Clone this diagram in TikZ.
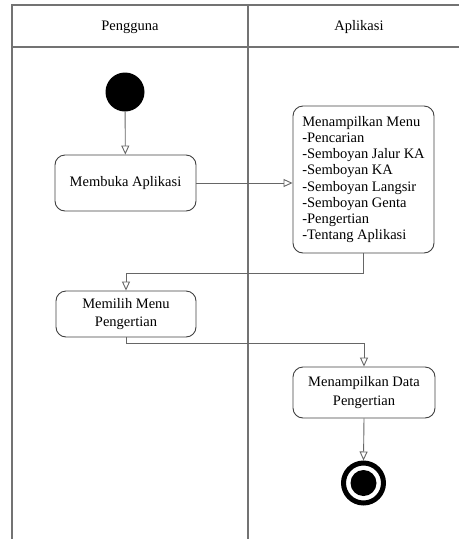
\documentclass[tikz,border=0pt]{standalone}
\usepackage{fontspec}
\setmainfont{Liberation Serif}
\usetikzlibrary{arrows.meta}

\begin{document}
\begin{tikzpicture}[x=1pt, y=-1pt, >={Triangle[open,length=9pt,width=8pt]},
  lane/.style={draw=black!55, line width=1.4pt},
  act/.style={draw=black!75, rounded corners=10pt, line width=0.9pt, align=center,
    font=\fontsize{14.5}{18.5}\selectfont, inner sep=0pt},
  flow/.style={->, draw=black!60, line width=0.9pt}]
\useasboundingbox (0,0) rectangle (459,539);
\draw[lane](12,539)--(12,5)--(459,5);
\draw[lane](12,47)--(459,47);
\draw[lane](248,5)--(248,539);
\node[font=\fontsize{14.5}{16}\selectfont] (hpengguna) at (130,27) {Pengguna};
\node[font=\fontsize{14.5}{16}\selectfont] (haplikasi) at (359,27) {Aplikasi};

\node[circle, fill=black, minimum size=39pt, inner sep=0pt] (mulai) at (125,92) {};
\node[act, minimum width=141pt, minimum height=56pt] (buka) at (125.5,183) {Membuka Aplikasi};
\node[act, minimum width=141pt, minimum height=147pt, align=left,
  font=\fontsize{14.5}{16.1}\selectfont] (menu) at (363.5,179.5)
  {Menampilkan Menu\\-Pencarian\\-Semboyan Jalur KA\\-Semboyan KA\\-Semboyan Langsir\\-Semboyan Genta\\-Pengertian\\-Tentang Aplikasi};
\node[act, minimum width=140pt, minimum height=46pt] (pilih) at (126,314) {Memilih Menu\\Pengertian};
\node[act, minimum width=142pt, minimum height=51pt] (data) at (364,392.5) {Menampilkan Data\\Pengertian};
\node[circle, draw=black, line width=5pt, minimum size=40pt, inner sep=0pt] (selesai) at (363.5,483) {};
\fill (selesai) circle (13);

\draw[flow](mulai)--(buka);
\draw[flow](buka.east)--(buka.east -| menu.west);
\draw[flow](menu.south)--++(0,20)-|(pilih.north);
\draw[flow](pilih.south)--++(0,6)-|(data.north);
\draw[flow](data.south)--(selesai.north);
\end{tikzpicture}
\end{document}
